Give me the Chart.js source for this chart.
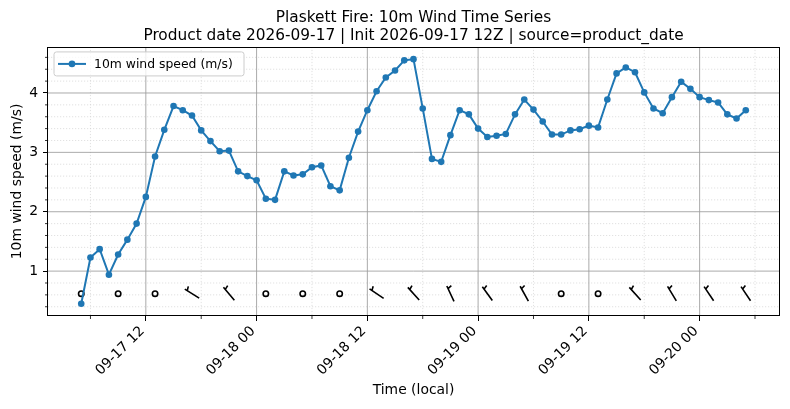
<!DOCTYPE html>
<html>
<head>
<meta charset="utf-8">
<script src="https://cdn.jsdelivr.net/npm/chart.js@4.4.0/dist/chart.umd.min.js"></script>
<style>
html,body{margin:0;padding:0;background:#fff;}
#wrap{width:790px;height:409px;}
</style>
</head>
<body>
<div id="wrap"><canvas id="c" width="790" height="409"></canvas></div>
<script>
// ---------------- DATA ----------------
const times = [
  '09-17 05','09-17 06','09-17 07','09-17 08','09-17 09','09-17 10','09-17 11','09-17 12','09-17 13','09-17 14',
  '09-17 15','09-17 16','09-17 17','09-17 18','09-17 19','09-17 20','09-17 21','09-17 22','09-17 23',
  '09-18 00','09-18 01','09-18 02','09-18 03','09-18 04','09-18 05','09-18 06','09-18 07','09-18 08','09-18 09',
  '09-18 10','09-18 11','09-18 12','09-18 13','09-18 14','09-18 15','09-18 16','09-18 17','09-18 18','09-18 19',
  '09-18 20','09-18 21','09-18 22','09-18 23',
  '09-19 00','09-19 01','09-19 02','09-19 03','09-19 04','09-19 05','09-19 06','09-19 07','09-19 08','09-19 09',
  '09-19 10','09-19 11','09-19 12','09-19 13','09-19 14','09-19 15','09-19 16','09-19 17','09-19 18','09-19 19',
  '09-19 20','09-19 21','09-19 22','09-19 23',
  '09-20 00','09-20 01','09-20 02','09-20 03','09-20 04','09-20 05'
];
const windSpeed = [
  0.45,1.23,1.37,0.94,1.28,1.53,1.80,2.25,2.93,3.38,
  3.78,3.71,3.62,3.37,3.19,3.02,3.03,2.68,2.60,2.53,
  2.22,2.20,2.68,2.61,2.63,2.75,2.78,2.43,2.36,2.91,
  3.35,3.71,4.03,4.26,4.38,4.55,4.57,3.74,2.89,2.84,
  3.29,3.71,3.64,3.40,3.26,3.28,3.31,3.64,3.89,3.72,
  3.52,3.30,3.30,3.37,3.39,3.45,3.42,3.89,4.33,4.43,
  4.35,4.01,3.74,3.66,3.93,4.19,4.07,3.93,3.88,3.84,
  3.64,3.57,3.71
];
const barbTimes = [
  '09-17 05','09-17 09','09-17 13','09-17 17','09-17 21',
  '09-18 01','09-18 05','09-18 09','09-18 13','09-18 17','09-18 21',
  '09-19 01','09-19 05','09-19 09','09-19 13','09-19 17','09-19 21',
  '09-20 01','09-20 05'
];
// direction the wind comes from (degrees); null = calm (drawn as an empty circle)
const barbDirections = [null,null,null,302,320,null,null,null,304,318,335,324,331,null,null,318,329,326,326];
const barbLevel = 0.62;
const xTickTimes = ['09-17 12','09-18 00','09-18 12','09-19 00','09-19 12','09-20 00'];
const xTickLabels = ['09-17 12','09-18 00','09-18 12','09-19 00','09-19 12','09-20 00'];
const yTickValues = [1,2,3,4];

const titleLines = ['Plaskett Fire: 10m Wind Time Series','Product date 2026-09-17 | Init 2026-09-17 12Z | source=product_date'];
const seriesLabel = '10m wind speed (m/s)';
const xAxisTitle = 'Time (local)';
const yAxisTitle = '10m wind speed (m/s)';

// ---------------- helpers ----------------
function toHours(s){ // hours since 09-17 00
  const [md, hh] = s.split(' ');
  const day = parseInt(md.split('-')[1], 10);
  return (day - 17) * 24 + parseInt(hh, 10);
}
const xs = times.map(toHours);
const xTickHours = xTickTimes.map(toHours);
const xSpan = xs[xs.length-1] - xs[0];
const xMin = xs[0] - 0.05 * xSpan, xMax = xs[xs.length-1] + 0.05 * xSpan;
const ySpan = Math.max(...windSpeed) - Math.min(...windSpeed);
const yMin = Math.min(...windSpeed) - 0.05 * ySpan, yMax = Math.max(...windSpeed) + 0.05 * ySpan;

const FONT = 'DejaVu Sans';
Chart.defaults.font.family = FONT;
Chart.defaults.color = '#000';

function drawBarb(ctx, x, y, dirDeg, L){
  const a = dirDeg * Math.PI / 180;
  const ux = Math.sin(a), uy = -Math.cos(a);
  const px = -uy, py = ux;
  const x0 = x - ux*L/2, y0 = y - uy*L/2;
  const x1 = x + ux*L/2, y1 = y + uy*L/2;
  ctx.beginPath();
  ctx.moveTo(x0, y0); ctx.lineTo(x1, y1);
  const s = L * (1 - 0.17);
  const hx = x0 + ux*s, hy = y0 + uy*s;
  ctx.moveTo(hx, hy);
  ctx.lineTo(hx + px*0.25*L + ux*0.08*L, hy + py*0.25*L + uy*0.08*L);
  ctx.stroke();
}

const mplPlugin = {
  id: 'mpl',
  beforeDatasetsDraw(chart){
    const {ctx, chartArea: a, scales: {x, y}} = chart;
    ctx.save();
    ctx.beginPath(); ctx.rect(a.left, a.top, a.right - a.left, a.bottom - a.top); ctx.clip();
    // minor grid
    ctx.strokeStyle = '#d4d4d4'; ctx.lineWidth = 0.7; ctx.setLineDash([1.2, 1.8]);
    ctx.beginPath();
    for (let h = 6; h <= xMax; h += 12){ const px = x.getPixelForValue(h); ctx.moveTo(px, a.top); ctx.lineTo(px, a.bottom); }
    for (let k = 2; k * 0.2 <= yMax; k++){ if (k % 5 === 0) continue; const py = y.getPixelForValue(k*0.2); ctx.moveTo(a.left, py); ctx.lineTo(a.right, py); }
    ctx.stroke();
    ctx.setLineDash([]);
    // major grid
    ctx.strokeStyle = '#9c9c9c'; ctx.lineWidth = 0.85;
    ctx.beginPath();
    xTickHours.forEach(h => { const px = x.getPixelForValue(h); ctx.moveTo(px, a.top); ctx.lineTo(px, a.bottom); });
    yTickValues.forEach(v => { const py = y.getPixelForValue(v); ctx.moveTo(a.left, py); ctx.lineTo(a.right, py); });
    ctx.stroke();
    // wind barbs
    ctx.strokeStyle = '#000'; ctx.lineWidth = 1.6; ctx.lineCap = 'butt';
    barbTimes.forEach((t, i) => {
      const px = x.getPixelForValue(toHours(t));
      const py = y.getPixelForValue(barbLevel);
      const d = barbDirections[i];
      if (d === null){
        ctx.beginPath(); ctx.arc(px, py, 2.7, 0, Math.PI*2); ctx.stroke();
      } else {
        drawBarb(ctx, px, py, d, 17);
      }
    });
    ctx.restore();
  },
  afterDatasetsDraw(chart){
    const {ctx, chartArea: a, scales: {x, y}} = chart;
    ctx.save();
    // minor tick marks
    ctx.strokeStyle = '#000'; ctx.lineWidth = 0.8;
    ctx.beginPath();
    for (let h = 6; h <= xMax; h += 12){ const px = x.getPixelForValue(h); ctx.moveTo(px, a.bottom); ctx.lineTo(px, a.bottom + 3); }
    for (let k = 2; k * 0.2 <= yMax; k++){ if (k % 5 === 0) continue; const py = y.getPixelForValue(k*0.2); ctx.moveTo(a.left, py); ctx.lineTo(a.left - 3, py); }
    ctx.stroke();
    // spines
    ctx.lineWidth = 1; ctx.strokeStyle = '#000';
    ctx.strokeRect(Math.round(a.left) - 0.5, Math.round(a.top) + 0.5, Math.round(a.right - a.left) + 1, Math.round(a.bottom - a.top) - 1);
    // legend
    const lx = a.left + 6, ly = a.top + 5, lw = 190, lh = 24, r = 2.5;
    ctx.beginPath();
    ctx.moveTo(lx + r, ly); ctx.lineTo(lx + lw - r, ly); ctx.arcTo(lx + lw, ly, lx + lw, ly + r, r);
    ctx.lineTo(lx + lw, ly + lh - r); ctx.arcTo(lx + lw, ly + lh, lx + lw - r, ly + lh, r);
    ctx.lineTo(lx + r, ly + lh); ctx.arcTo(lx, ly + lh, lx, ly + lh - r, r);
    ctx.lineTo(lx, ly + r); ctx.arcTo(lx, ly, lx + r, ly, r); ctx.closePath();
    ctx.fillStyle = 'rgba(255,255,255,0.8)'; ctx.fill();
    ctx.strokeStyle = '#cccccc'; ctx.lineWidth = 1; ctx.stroke();
    const cy = ly + lh/2;
    const ds = chart.data.datasets[0];
    ctx.strokeStyle = ds.borderColor; ctx.lineWidth = 2;
    ctx.beginPath(); ctx.moveTo(lx + 4, cy); ctx.lineTo(lx + 32, cy); ctx.stroke();
    ctx.fillStyle = ds.borderColor;
    ctx.beginPath(); ctx.arc(lx + 18, cy, 3.3, 0, Math.PI*2); ctx.fill();
    ctx.fillStyle = '#000'; ctx.font = '12.4px "' + FONT + '"';
    ctx.textAlign = 'left'; ctx.textBaseline = 'middle';
    ctx.fillText(ds.label, lx + 40, cy + 0.5);
    ctx.restore();
  }
};

new Chart(document.getElementById('c'), {
  type: 'line',
  data: {
    datasets: [{
      label: seriesLabel,
      data: xs.map((h, i) => ({x: h, y: windSpeed[i]})),
      borderColor: '#1f77b4',
      backgroundColor: '#1f77b4',
      borderWidth: 2,
      pointRadius: 3.3,
      pointBackgroundColor: '#1f77b4',
      pointBorderWidth: 0,
      tension: 0,
      fill: false
    }]
  },
  options: {
    responsive: false,
    animation: false,
    events: [],
    layout: { padding: { left: 0, right: 11, top: 0, bottom: 0 } },
    plugins: {
      legend: { display: false },
      tooltip: { enabled: false },
      title: {
        display: true,
        fullSize: false,
        text: titleLines,
        color: '#000',
        font: { size: 15.35, weight: 'normal', family: FONT, lineHeight: 1.17 },
        padding: { top: 9, bottom: 2 }
      }
    },
    scales: {
      x: {
        type: 'linear',
        min: xMin, max: xMax,
        afterBuildTicks: s => { s.ticks = xTickHours.map(v => ({value: v})); },
        afterFit: s => { s.height = 93; },
        ticks: {
          autoSkip: false, minRotation: 45, maxRotation: 45,
          font: { size: 13.9, family: FONT }, color: '#000', padding: 2, labelOffset: -3.5,
          callback: v => { const i = xTickHours.indexOf(v); return i >= 0 ? xTickLabels[i] : ''; }
        },
        grid: { display: true, drawOnChartArea: false, drawTicks: true, tickLength: 5, tickWidth: 1, tickColor: '#000' },
        border: { display: false },
        title: { display: true, text: xAxisTitle, color: '#000', font: { size: 13.9, family: FONT, lineHeight: 1.2 }, padding: { top: 10, bottom: 10 } }
      },
      y: {
        type: 'linear',
        min: yMin, max: yMax,
        afterBuildTicks: s => { s.ticks = yTickValues.map(v => ({value: v})); },
        afterFit: s => { s.width = 48; },
        ticks: { font: { size: 13.9, family: FONT }, color: '#000', padding: 5, callback: v => String(v) },
        grid: { display: true, drawOnChartArea: false, drawTicks: true, tickLength: 5, tickWidth: 1, tickColor: '#000' },
        border: { display: false },
        title: { display: true, text: yAxisTitle, color: '#000', font: { size: 13.9, family: FONT, lineHeight: 1.2 }, padding: { top: 9.2, bottom: 9.2 } }
      }
    }
  },
  plugins: [mplPlugin]
});
</script>
</body>
</html>
